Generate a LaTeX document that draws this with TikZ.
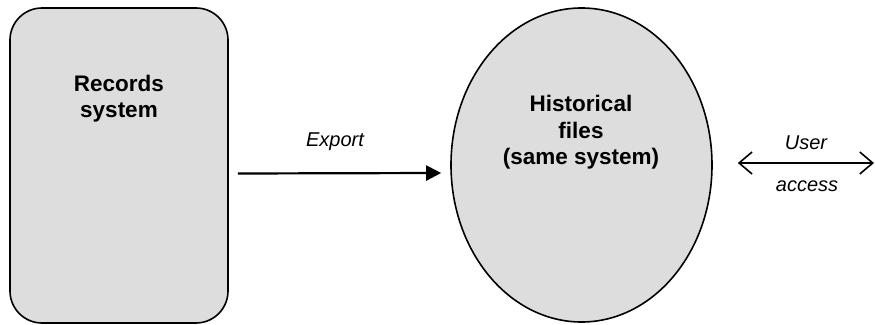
\documentclass[tikz,border=0pt]{standalone}
\usepackage{fontspec}
\setmainfont{Liberation Sans}
\usetikzlibrary{arrows.meta,shapes.geometric}
\definecolor{shapefill}{HTML}{DDDDDD}
\tikzset{
  shapeline/.style={draw=black, line width=1.6pt, fill=shapefill},
  boldlabel/.style={font=\fontsize{22.5}{26.5}\selectfont\bfseries, align=center, anchor=base},
  itlabel/.style={font=\fontsize{20}{24}\selectfont\itshape, anchor=base},
  exportarrow/.style={line width=2.2pt, -{Triangle[length=15pt,width=15pt]}},
  accessarrow/.style={line width=1.6pt, {Straight Barb[length=13pt,width=22pt]}-{Straight Barb[length=13pt,width=22pt]}}
}
\begin{document}
\begin{tikzpicture}[x=1pt,y=1pt]
\useasboundingbox (0,0) rectangle (875,324);
\node[shapeline, rectangle, rounded corners=32pt, minimum width=218pt, minimum height=315pt, inner sep=0pt] (box) at (119,158.5) {};
\node[shapeline, ellipse, minimum width=261pt, minimum height=314pt, inner sep=0pt] (ell) at (581.5,159) {};
\node[boldlabel] (rec) at (119,206) {Records\\system};
\node[boldlabel] (hist) at (581,159) {Historical\\files\\(same system)};
\draw[exportarrow] ([xshift=9pt,yshift=-8pt]box.east) -- ([xshift=-9pt,yshift=-8pt]ell.west);
\node[itlabel] (exp) at (335,177) {Export};
\coordinate (uend) at (874,161);
\draw[accessarrow] ([xshift=25pt,yshift=2pt]ell.east) -- (uend);
\node[itlabel] (user) at (806,174) {User};
\node[itlabel] (acc) at (807,132) {access};
\end{tikzpicture}
\end{document}
